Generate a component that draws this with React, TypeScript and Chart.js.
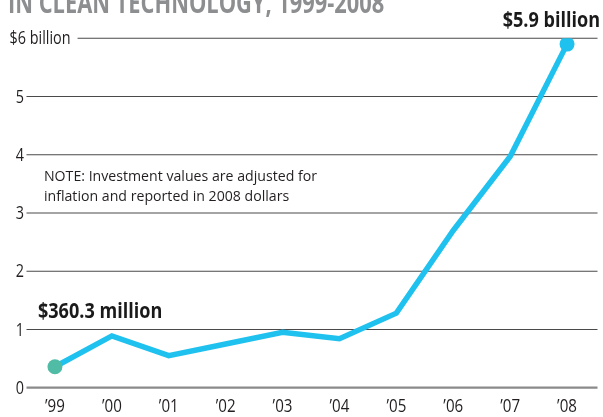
import React, { useEffect, useRef } from "react";
import { Chart, registerables } from "chart.js";

Chart.register(...registerables);

const years = ["’99", "’00", "’01", "’02", "’03", "’04", "’05", "’06", "’07", "’08"];
const investment = [0.36, 0.89, 0.55, 0.75, 0.95, 0.84, 1.28, 2.7, 3.97, 5.9];
const yTickValues = [0, 1, 2, 3, 4, 5, 6];
const yTickLabels = ["0", "1", "2", "3", "4", "5", "$6 billion"];
const titleText = "IN CLEAN TECHNOLOGY, 1999-2008";
const startLabel = "$360.3 million";
const endLabel = "$5.9 billion";
const noteLines = ["NOTE: Investment values are adjusted for", "inflation and reported in 2008 dollars"];

const FONT = '"Open Sans", "Noto Sans", sans-serif';

function condensedText(ctx: any, text: string, x: number, y: number, font: string, color: string, align: string, baseline: string, sx: number) {
  ctx.save();
  ctx.font = font;
  ctx.fillStyle = color;
  ctx.textAlign = align;
  ctx.textBaseline = baseline;
  ctx.translate(x, y);
  ctx.scale(sx, 1);
  ctx.fillText(text, 0, 0);
  const w = ctx.measureText(text).width * sx;
  ctx.restore();
  return w;
}

const decorPlugin = {
  id: "decor",
  beforeDatasetsDraw(chart: any) {
    const { ctx, chartArea, scales } = chart;
    const y = scales.y;
    const x = scales.x;
    ctx.save();
    // gridlines and y labels
    yTickValues.forEach((v, i) => {
      const py = y.getPixelForValue(v);
      const label = yTickLabels[i];
      let startX = chartArea.left;
      if (label.length > 2) {
        const w = condensedText(ctx, label, 9.5, py + 1, `18px ${FONT}`, "#231f20", "left", "middle", 0.8);
        startX = 9.5 + w + 7;
      } else {
        condensedText(ctx, label, chartArea.left - 2.5, py + 1, `18px ${FONT}`, "#231f20", "right", "middle", 0.8);
      }
      ctx.beginPath();
      ctx.strokeStyle = v === 0 ? "#8a8a8a" : "#4a4a4a";
      ctx.lineWidth = v === 0 ? 2.2 : 1.1;
      ctx.moveTo(startX, py);
      ctx.lineTo(chartArea.right + 2, py);
      ctx.stroke();
    });
    // x labels
    years.forEach((lab, i) => {
      condensedText(ctx, lab, x.getPixelForValue(i), chartArea.bottom + 19, `18px ${FONT}`, "#231f20", "center", "middle", 0.84);
    });
    // title (cut off at top)
    condensedText(ctx, titleText, 8, 13, `bold 28px ${FONT}`, "#8c8e90", "left", "alphabetic", 0.78);
    // note
    const noteY = y.getPixelForValue(3.55);
    noteLines.forEach((line, i) => {
      condensedText(ctx, line, x.getPixelForValue(0) - 11, noteY + i * 20, `14px ${FONT}`, "#231f20", "left", "alphabetic", 1.01);
    });
    // annotations
    condensedText(ctx, startLabel, x.getPixelForValue(0) - 17, y.getPixelForValue(investment[0]) - 49, `bold 21px ${FONT}`, "#1a1a1a", "left", "alphabetic", 0.86);
    condensedText(ctx, endLabel, x.getPixelForValue(investment.length - 1) + 33, y.getPixelForValue(investment[investment.length - 1]) - 17, `bold 21px ${FONT}`, "#1a1a1a", "right", "alphabetic", 0.86);
    ctx.restore();
  },
};

export default function App() {
  const ref = useRef<HTMLCanvasElement | null>(null);
  useEffect(() => {
    if (!ref.current) return;
    const n = investment.length;
    const chart = new Chart(ref.current, {
      type: "line",
      data: {
        labels: years,
        datasets: [
          {
            data: investment,
            borderColor: "#1fc1ee",
            borderWidth: 5.5,
            tension: 0,
            borderJoinStyle: "miter",
            pointRadius: investment.map((_, i) => (i === 0 || i === n - 1 ? 7.5 : 0)),
            pointBackgroundColor: investment.map((_, i) => (i === 0 ? "#50bca6" : "#1fc1ee")),
            pointBorderWidth: 0,
            pointHoverRadius: 0,
          },
        ],
      },
      options: {
        animation: false,
        responsive: false,
        devicePixelRatio: 1,
        layout: { padding: { left: 26.5, right: 4.4, top: 38.3, bottom: 29.3 } },
        plugins: { legend: { display: false }, tooltip: { enabled: false }, title: { display: false } },
        scales: {
          x: {
            type: "category",
            offset: true,
            display: false,
          },
          y: {
            display: false,
            min: 0,
            max: 6,
          },
        },
      },
      plugins: [decorPlugin],
    });
    return () => chart.destroy();
  }, []);
  return (
    <div style={{ position: "absolute", left: 0, top: 0, width: 603, height: 417, background: "#fff" }}>
      <canvas ref={ref} width={603} height={417} style={{ display: "block" }} />
    </div>
  );
}
